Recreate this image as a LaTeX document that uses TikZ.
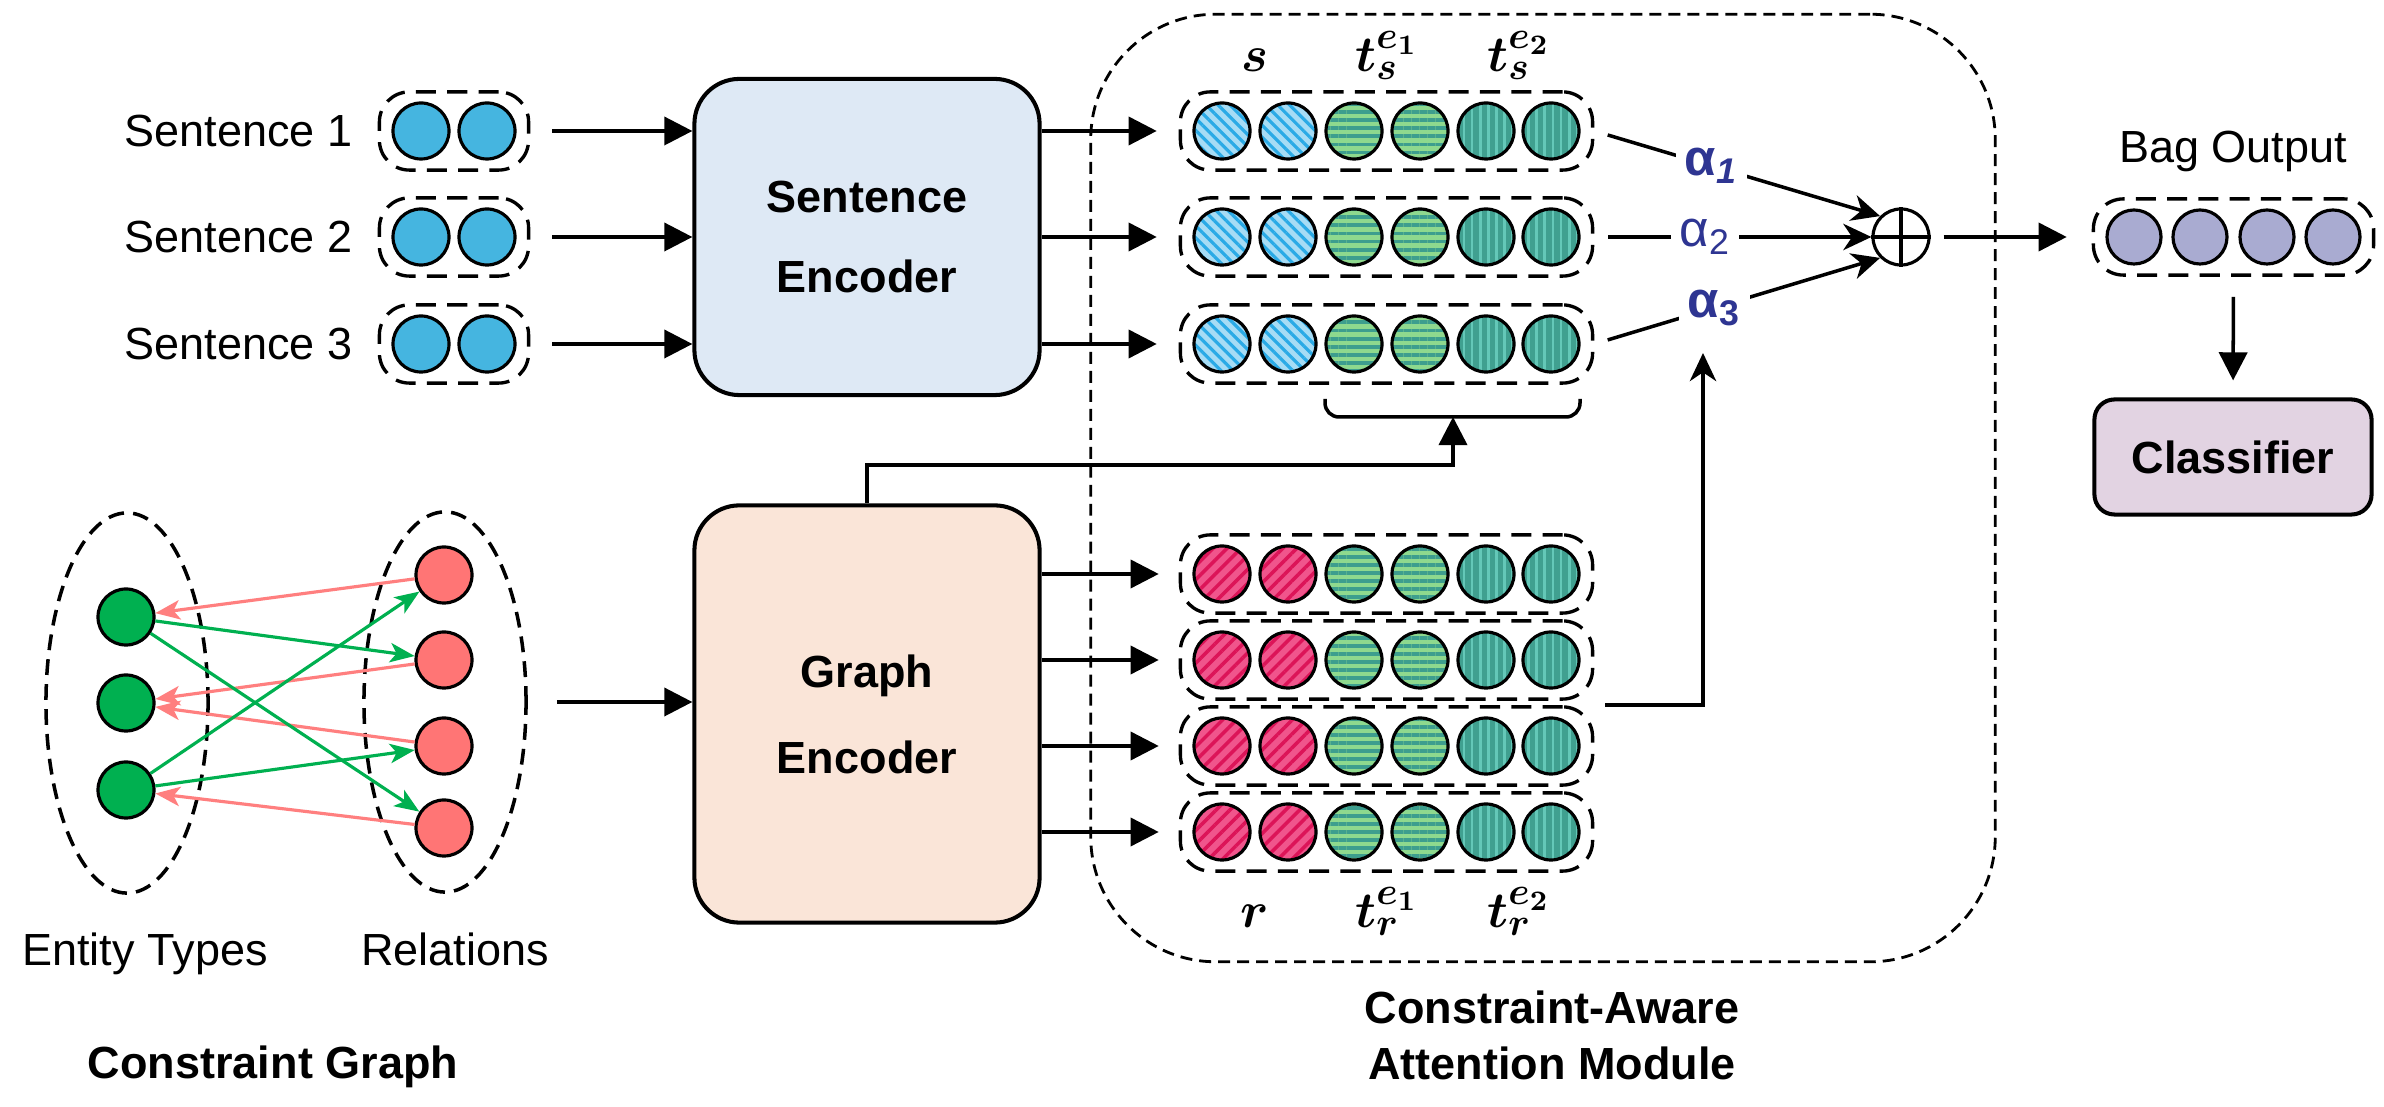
\documentclass[tikz,border=0pt]{standalone}
\usepackage[no-math]{fontspec}
\setmainfont{Liberation Sans}
\usepackage{amsmath,bm}
\usetikzlibrary{arrows.meta,patterns.meta,shapes.geometric,fit,calc}

\definecolor{sencfill}{HTML}{DEE9F5}
\definecolor{gencfill}{HTML}{FAE5D8}
\definecolor{clsfill}{HTML}{E2D3E2}
\definecolor{bagfill}{HTML}{A9ABD1}
\definecolor{inblue}{HTML}{45B5E0}
\definecolor{sbase}{HTML}{A6DCF5}
\definecolor{sstripe}{HTML}{2AAAE6}
\definecolor{eoneA}{HTML}{8ED98E}
\definecolor{eoneB}{HTML}{3D9E8E}
\definecolor{etwoA}{HTML}{40A090}
\definecolor{etwoB}{HTML}{64C8B8}
\definecolor{rbase}{HTML}{F0558C}
\definecolor{rstripe}{HTML}{DC1458}
\definecolor{entgreen}{HTML}{00B050}
\definecolor{relred}{HTML}{FF7575}
\definecolor{edgered}{HTML}{FF7F7F}
\definecolor{alphablue}{HTML}{2E3592}

\begin{document}
\begin{tikzpicture}[x=0.01cm, y=-0.01cm,
  lbl/.style={font=\fontsize{12.8}{15}\selectfont, inner sep=0},
  blbl/.style={font=\fontsize{12.8}{15}\selectfont\bfseries, inner sep=0},
  mlbl/.style={font=\fontsize{15.5}{18}\selectfont, inner sep=0},
  vc/.style={circle, draw=black, line width=0.9pt, minimum size=0.56cm, inner sep=0},
  inc/.style={vc, fill=inblue},
  sc/.style={vc, preaction={fill=sbase}, preaction={pattern={Lines[angle=-45,distance=2.4pt,line width=0.9pt]}, pattern color=sstripe}},
  eonec/.style={vc, preaction={fill=eoneA}, preaction={pattern={Lines[angle=0,distance=2.3pt,line width=1.1pt]}, pattern color=eoneB}},
  etwoc/.style={vc, preaction={fill=etwoA}, preaction={pattern={Lines[angle=90,distance=2.3pt,line width=0.8pt]}, pattern color=etwoB}},
  rc/.style={vc, preaction={fill=rbase}, preaction={pattern={Lines[angle=45,distance=2.8pt,line width=1pt]}, pattern color=rstripe}},
  bagc/.style={vc, fill=bagfill, minimum size=0.54cm},
  vbox/.style={draw, line width=0.95pt, dash pattern=on 5.7pt off 3.2pt, rounded corners=0.3cm, inner xsep=0.12cm, inner ysep=0.095cm},
  modbox/.style={draw, line width=0.8pt, dash pattern=on 3.4pt off 2pt, rounded corners=1.25cm, inner sep=0},
  encbox/.style={draw, line width=1.15pt, rounded corners=0.45cm, minimum width=3.45cm, align=center},
  arr/.style={line width=1pt, -{Triangle[length=8pt,width=8pt]}},
  sarr/.style={line width=1pt, -{Stealth[length=8pt,width=7.5pt,inset=2.5pt]}},
  garr/.style={line width=0.9pt, -{Stealth[length=7pt,width=5.5pt,inset=1.8pt]}},
  gnode/.style={circle, draw=black, line width=0.9pt, minimum size=0.56cm, inner sep=0},
  gell/.style={ellipse, draw, line width=1pt, dash pattern=on 4.5pt off 2.6pt, minimum width=1.62cm, minimum height=3.8cm, inner sep=0},
  alph/.style={font=\fontsize{14.5}{16}\selectfont, text=alphablue, fill=white, inner sep=2.5pt}
]
\path[use as bounding box, fill=white] (0,0) rectangle (2384,1107);

% attention module frame
\node[modbox, minimum width=9.04cm, minimum height=9.47cm] (mod) at (1543,488) {};
\node[blbl, anchor=base] (modl1) at (1552,1024) {Constraint-Aware};
\node[blbl, anchor=base] (modl2) at (1552,1080) {Attention Module};

% encoders
\node[encbox, fill=sencfill, minimum height=3.16cm, font=\fontsize{12.8}{23}\selectfont\bfseries] (senc) at (867,237) {Sentence\\Encoder};
\node[encbox, fill=gencfill, minimum height=4.17cm, font=\fontsize{12.8}{24.5}\selectfont\bfseries] (genc) at (867,714) {Graph\\Encoder};

% sentence vectors
\foreach \r/\y in {1/131,2/237,3/344}{
  \node[sc] (s\r-a) at (1222,\y) {};
  \node[sc] (s\r-b) at (1288,\y) {};
  \node[eonec] (s\r-c) at (1354,\y) {};
  \node[eonec] (s\r-d) at (1420,\y) {};
  \node[etwoc] (s\r-e) at (1486,\y) {};
  \node[etwoc] (s\r-f) at (1551,\y) {};
  \node[vbox, fit=(s\r-a)(s\r-f)] (sb\r) {};
  \draw[arr, shorten >=0.22cm] (senc.east |- sb\r.west) -- (sb\r.west);
}

% relation vectors
\foreach \r/\y in {1/574,2/660,3/746,4/832}{
  \node[rc] (g\r-a) at (1222,\y) {};
  \node[rc] (g\r-b) at (1288,\y) {};
  \node[eonec] (g\r-c) at (1354,\y) {};
  \node[eonec] (g\r-d) at (1420,\y) {};
  \node[etwoc] (g\r-e) at (1486,\y) {};
  \node[etwoc] (g\r-f) at (1551,\y) {};
  \node[vbox, fit=(g\r-a)(g\r-f)] (gb\r) {};
  \draw[arr, shorten >=0.2cm] (genc.east |- gb\r.west) -- (gb\r.west);
}

% input sentences
\foreach \r/\y in {1/131,2/237,3/344}{
  \node[lbl, anchor=east] (st\r) at (353,\y) {Sentence \r};
  \node[inc] (i\r-a) at (421,\y) {};
  \node[inc] (i\r-b) at (487,\y) {};
  \node[vbox, fit=(i\r-a)(i\r-b)] (ib\r) {};
  \draw[arr, shorten <=0.22cm] (ib\r.east) -- (senc.west |- ib\r.east);
}

% vector labels
\node[mlbl, anchor=base] (ls) at (1255,72) {$\bm{s}$};
\node[mlbl, anchor=base] (lts1) at (1387,72) {$\bm{t_s^{e_1}}$};
\node[mlbl, anchor=base] (lts2) at (1519,72) {$\bm{t_s^{e_2}}$};
\node[mlbl, anchor=base] (lr) at (1255,928) {$\bm{r}$};
\node[mlbl, anchor=base] (ltr1) at (1387,928) {$\bm{t_r^{e_1}}$};
\node[mlbl, anchor=base] (ltr2) at (1519,928) {$\bm{t_r^{e_2}}$};

% brace and graph-encoder connector
\coordinate (bt) at (1453,417);
\draw[line width=1pt, rounded corners=0.14cm] (1325,399) |- (bt) -| (1580,399);
\draw[arr] (genc.north) |- (1453,465) -- (bt);

% sum node and attention arrows
\node[circle, draw, line width=0.9pt, minimum size=0.56cm, inner sep=0] (plus) at (1901,237) {};
\draw[line width=0.9pt] (plus.north) -- (plus.south) (plus.west) -- (plus.east);
\draw[sarr, shorten <=0.14cm] (sb1.east) -- node[alph, pos=0.41] (a1) {\textbf{α\textsubscript{\textit{1}}}} (plus.north west);
\draw[sarr, shorten <=0.14cm] (sb2.east) -- node[alph, pos=0.40] (a2) {α\textsubscript{2}} (plus.west);
\draw[sarr, shorten <=0.14cm] (sb3.east) -- node[alph, pos=0.42] (a3) {\textbf{α\textsubscript{3}}} (plus.south west);
\coordinate (gout) at (1605,705);
\coordinate (a3in) at (1703,353);
\draw[sarr] (gout) -| (a3in);

% bag output and classifier
\node[lbl] (bagl) at (2233,151) {Bag Output};
\node[bagc] (o1) at (2134,237) {};
\node[bagc] (o2) at (2200,237) {};
\node[bagc] (o3) at (2267,237) {};
\node[bagc] (o4) at (2333,237) {};
\node[vbox, fit=(o1)(o4)] (bagb) {};
\draw[arr, shorten <=0.13cm, shorten >=0.25cm] (plus.east) -- (bagb.west);
\node[draw, line width=1.15pt, fill=clsfill, rounded corners=0.2cm, minimum width=2.77cm, minimum height=1.15cm, font=\fontsize{12.8}{15}\selectfont\bfseries] (cls) at (2233,457) {Classifier};
\draw[arr, shorten <=0.2cm, shorten >=0.17cm] (bagb.south) -- (cls.north);

% constraint graph
\node[gell] (entell) at (127,703) {};
\node[gell] (relell) at (445,702) {};
\node[gnode, fill=entgreen] (E1) at (126,617) {};
\node[gnode, fill=entgreen] (E2) at (126,703) {};
\node[gnode, fill=entgreen] (E3) at (126,790) {};
\node[gnode, fill=relred] (R1) at (444,575) {};
\node[gnode, fill=relred] (R2) at (444,660) {};
\node[gnode, fill=relred] (R3) at (444,746) {};
\node[gnode, fill=relred] (R4) at (444,828) {};
\draw[garr, draw=edgered] (R1) -- (E1);
\draw[garr, draw=edgered] (R2) -- (E2);
\draw[garr, draw=edgered] (R3) -- (E2);
\draw[garr, draw=edgered] (R4) -- (E3);
\draw[garr, draw=entgreen] (E1) -- (R2);
\draw[garr, draw=entgreen] (E1) -- (R4);
\draw[garr, draw=entgreen] (E3) -- (R1);
\draw[garr, draw=entgreen] (E3) -- (R3);
\node[lbl, anchor=base] (entl) at (145,966) {Entity Types};
\node[lbl, anchor=base] (rell) at (455,966) {Relations};
\node[blbl, anchor=base] (cgl) at (273,1079) {Constraint Graph};
\draw[arr, shorten <=0.29cm] (relell.east) -- (relell.east -| genc.west);
\end{tikzpicture}
\end{document}
